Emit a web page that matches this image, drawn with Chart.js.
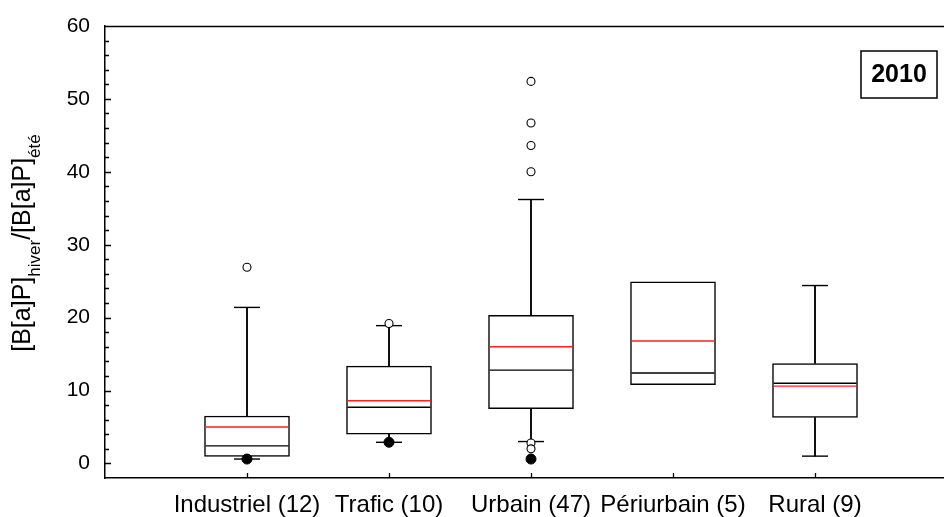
<!DOCTYPE html>
<html>
<head>
<meta charset="utf-8">
<script src="https://cdn.jsdelivr.net/npm/chart.js@4/dist/chart.umd.min.js"></script>
<style>
  html, body { margin: 0; padding: 0; background: #fff; overflow: hidden; }
  #wrap { width: 944px; height: 517px; }
</style>
</head>
<body>
<div id="wrap"><canvas id="boxChart"></canvas></div>
<script>
const categories = ['Industriel (12)', 'Trafic (10)', 'Urbain (47)', 'Périurbain (5)', 'Rural (9)'];
const whiskerLow = [0.6, 2.9, 3.0, null, 1.0];
const q1 = [0.95, 4.0, 7.5, 10.8, 6.3];
const median = [2.4, 7.7, 12.8, 12.4, 11.0];
const mean = [5.0, 8.6, 16.0, 16.8, 10.6];
const q3 = [6.5, 13.35, 20.3, 24.9, 13.7];
const whiskerHigh = [21.4, 18.9, 36.2, null, 24.4];
const outliers = [[26.9], [19.2], [52.4, 46.7, 43.6, 40.0, 2.8, 2.0], [], []];
const extremes = [[0.6], [2.9], [0.6], [], []];
const yTicks = [0, 10, 20, 30, 40, 50, 60];
const yearLabel = '2010';

const FONT = "'Liberation Sans', Arial, sans-serif";
Chart.defaults.font.family = FONT;
Chart.defaults.color = '#000';

// helpers to turn the arrays into {x, y} points
const pos = i => i + 1;
const rangeData = (lo, hi) => categories
  .map((c, i) => (lo[i] == null || hi[i] == null) ? null : { x: pos(i), y: [lo[i], hi[i]] })
  .filter(p => p);
const pointData = arr => categories
  .map((c, i) => arr[i] == null ? null : { x: pos(i), y: arr[i] })
  .filter(p => p);
const flatData = lists => lists.flatMap((l, i) => l.map(v => ({ x: pos(i), y: v })));

const lineMark = (data, color, half, order) => ({
  type: 'scatter', data, order,
  pointStyle: 'line', pointRadius: half, pointHoverRadius: half,
  pointBorderColor: color, pointBorderWidth: 1.4, clip: false
});

const framePlugin = {
  id: 'frame',
  afterDraw(chart) {
    const { ctx, chartArea: a, scales: { x, y } } = chart;
    ctx.save();
    ctx.strokeStyle = '#000';
    ctx.lineWidth = 1.3;
    ctx.beginPath();
    ctx.moveTo(a.left, a.top + 0.5);
    ctx.lineTo(a.right, a.top + 0.5);
    // inner ticks on the y axis, minor every 2
    for (let v = 0; v <= 60; v += 2) {
      const py = Math.round(y.getPixelForValue(v)) + 0.5;
      const len = v % 10 === 0 ? 6 : 4;
      ctx.moveTo(a.left, py);
      ctx.lineTo(a.left + len, py);
    }
    categories.forEach((c, i) => {
      const px = Math.round(x.getPixelForValue(pos(i))) + 0.5;
      ctx.moveTo(px, a.bottom);
      ctx.lineTo(px, a.bottom - 5);
    });
    ctx.stroke();

    // year box
    ctx.lineWidth = 1.5;
    ctx.strokeRect(a.right - 83, a.top + 25, 76, 47);
    ctx.fillStyle = '#000';
    ctx.font = 'bold 25px ' + FONT;
    ctx.textAlign = 'center';
    ctx.textBaseline = 'middle';
    ctx.fillText(yearLabel, a.right - 45, a.top + 49);

    // y axis title with subscripts
    const parts = [['[B[a]P]', 0], ['hiver', 1], ['/[B[a]P]', 0], ['été', 1]];
    const fontFor = sub => (sub ? '17px ' : '25px ') + FONT;
    let total = 0;
    parts.forEach(([t, sub]) => { ctx.font = fontFor(sub); total += ctx.measureText(t).width; });
    ctx.translate(30, 243);
    ctx.rotate(-Math.PI / 2);
    ctx.textAlign = 'left';
    ctx.textBaseline = 'alphabetic';
    let cx = -total / 2;
    parts.forEach(([t, sub]) => {
      ctx.font = fontFor(sub);
      ctx.fillText(t, cx, sub ? 10 : 0);
      cx += ctx.measureText(t).width;
    });
    ctx.restore();
  }
};

new Chart(document.getElementById('boxChart'), {
  type: 'bar',
  data: {
    datasets: [
      { data: rangeData(whiskerLow, q1), backgroundColor: '#000', borderWidth: 0, barThickness: 1.2, grouped: false, order: 5 },
      { data: rangeData(q3, whiskerHigh), backgroundColor: '#000', borderWidth: 0, barThickness: 1.2, grouped: false, order: 5 },
      { data: rangeData(q1, q3), backgroundColor: '#fff', borderColor: '#000', borderWidth: 1.5,
        borderSkipped: false, barThickness: 85, grouped: false, order: 4 },
      lineMark(pointData(whiskerLow), '#000', 13, 3),
      lineMark(pointData(whiskerHigh), '#000', 13, 3),
      lineMark(pointData(median), '#000', 41.5, 2),
      lineMark(pointData(mean), '#ff2020', 41.5, 1),
      { type: 'scatter', data: flatData(outliers), order: 0, pointStyle: 'circle', pointRadius: 4,
        pointBackgroundColor: '#fff', pointBorderColor: '#000', pointBorderWidth: 1.1, clip: false },
      { type: 'scatter', data: flatData(extremes), order: 0, pointStyle: 'circle', pointRadius: 5,
        pointBackgroundColor: '#000', pointBorderColor: '#000', pointBorderWidth: 1, clip: false }
    ]
  },
  options: {
    responsive: true,
    maintainAspectRatio: false,
    animation: false,
    events: [],
    layout: { autoPadding: false, padding: { top: 26, right: 0, bottom: 0, left: 0 } },
    plugins: { legend: { display: false }, tooltip: { enabled: false } },
    scales: {
      x: {
        type: 'linear',
        min: 0,
        max: 839 / 142,
        offset: false,
        grid: { display: false, drawTicks: false },
        border: { display: true, color: '#000', width: 1.5 },
        afterBuildTicks: s => { s.ticks = categories.map((c, i) => ({ value: pos(i) })); },
        afterFit: s => { s.height = 39; s.paddingLeft = 0; s.paddingRight = 0; },
        ticks: {
          autoSkip: false, maxRotation: 0, padding: 13,
          font: { size: 24 },
          callback: v => categories[v - 1]
        }
      },
      y: {
        min: -2,
        max: 60,
        grid: { display: false, drawTicks: false },
        border: { display: true, color: '#000', width: 1.5 },
        afterBuildTicks: s => { s.ticks = yTicks.map(v => ({ value: v })); },
        afterFit: s => { s.width = 105; s.paddingTop = 0; s.paddingBottom = 0; },
        ticks: { padding: 15, font: { size: 21 }, callback: v => String(v) }
      }
    }
  },
  plugins: [framePlugin]
});
</script>
</body>
</html>
